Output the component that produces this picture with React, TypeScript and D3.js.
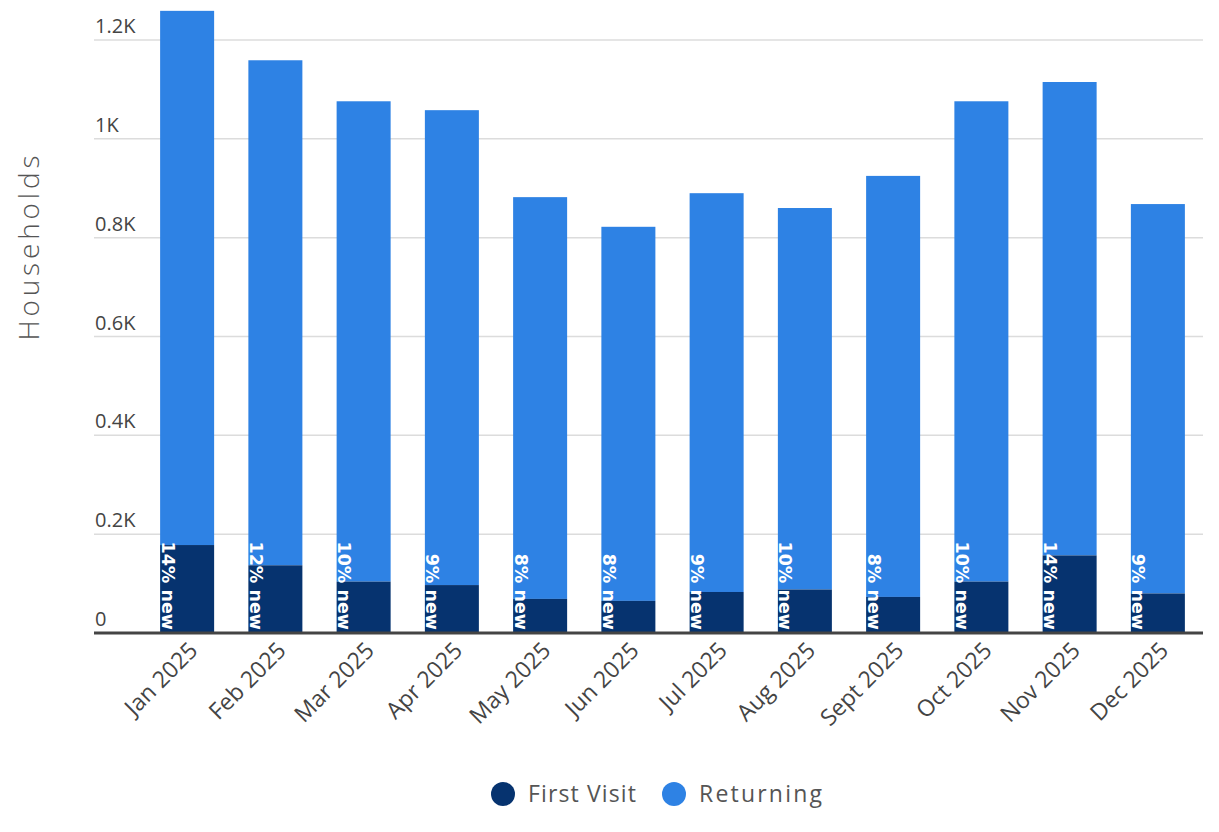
import React from "react";
import * as d3 from "d3";

const months = ["Jan 2025","Feb 2025","Mar 2025","Apr 2025","May 2025","Jun 2025","Jul 2025","Aug 2025","Sept 2025","Oct 2025","Nov 2025","Dec 2025"];
const firstVisit = [178, 137, 104, 97, 69, 65, 83, 88, 73, 104, 157, 80];
const returning = [1081, 1022, 972, 961, 813, 757, 807, 772, 852, 972, 958, 788];
const pctLabels = ["14% new","12% new","10% new","9% new","8% new","8% new","9% new","10% new","8% new","10% new","14% new","9% new"];
const yTicks = [0, 200, 400, 600, 800, 1000, 1200];
const yTickLabels = ["0","0.2K","0.4K","0.6K","0.8K","1K","1.2K"];
const seriesNames = ["First Visit", "Returning"];
const seriesColors = ["#06336f", "#2e82e4"];

export default function App() {
  const W = 1219, H = 832;
  const y = d3.scaleLinear().domain([0, 1200]).range([633, 40]);
  const x = d3.scaleBand<string>().domain(months).range([143, 1202]).paddingInner(0.388).paddingOuter(0.194);
  const font = "'Open Sans', sans-serif";
  const gridL = 94, gridR = 1203;
  return (
    <svg width={W} height={H} style={{ position: "absolute", left: 0, top: 0 }}>
      <rect width={W} height={H} fill="#fff" />
      {yTicks.map((t, i) => (
        <g key={t}>
          {t !== 0 && <line x1={gridL} x2={gridR} y1={y(t)} y2={y(t)} stroke="#dcdcdc" strokeWidth={1.5} />}
          <text x={95} y={y(t) - 7} fontFamily={font} fontSize={20} fill="#444">{yTickLabels[i]}</text>
        </g>
      ))}
      {months.map((m, i) => {
        const bx = x(m)!;
        const bw = x.bandwidth();
        const f = firstVisit[i];
        const tot = f + returning[i];
        return (
          <g key={m}>
            <rect x={bx} width={bw} y={y(tot)} height={y(f) - y(tot)} fill={seriesColors[1]} />
            <rect x={bx} width={bw} y={y(f)} height={y(0) - y(f)} fill={seriesColors[0]} />
            <text transform={`translate(${bx + 1.5},${y(0) - 3}) rotate(90)`} textAnchor="end"
              fontFamily="'DejaVu Sans', sans-serif" fontWeight="bold" fontSize={17.5} fill="#fff">{pctLabels[i]}</text>
            <text transform={`translate(${bx + bw / 2 + 12},${652}) rotate(-45)`} textAnchor="end"
              fontFamily={font} fontSize={23} fill="#444">{m}</text>
          </g>
        );
      })}
      <line x1={gridL} x2={gridR} y1={y(0)} y2={y(0)} stroke="#444" strokeWidth={3} />
      <text transform={`translate(39,248) rotate(-90)`} textAnchor="middle" fontFamily={font} fontWeight={300}
        fontSize={28} fill="#555" textLength={185} lengthAdjust="spacing">Households</text>
      <g>
        <circle cx={503} cy={794} r={12} fill={seriesColors[0]} />
        <text x={528} y={802} fontFamily={font} fontSize={23} fill="#555" textLength={108} lengthAdjust="spacing">{seriesNames[0]}</text>
        <circle cx={674} cy={794} r={12} fill={seriesColors[1]} />
        <text x={699} y={802} fontFamily={font} fontSize={23} fill="#555" textLength={123} lengthAdjust="spacing">{seriesNames[1]}</text>
      </g>
    </svg>
  );
}
